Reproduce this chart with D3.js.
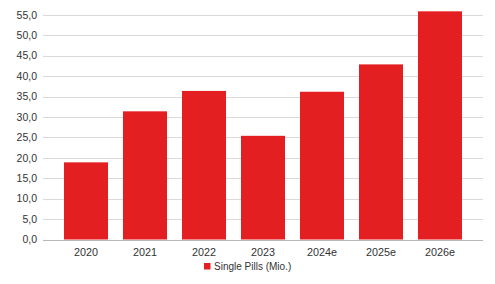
<!DOCTYPE html>
<html>
<head>
<meta charset="utf-8">
<script src="https://cdn.jsdelivr.net/npm/d3@7"></script>
<style>
  body { margin: 0; background: #fff; }
  text { font-family: "Liberation Sans", Arial, sans-serif; fill: #333; }
</style>
</head>
<body>
<script>
var w = 495;
var h = 284;

var years = ["2020", "2021", "2022", "2023", "2024e", "2025e", "2026e"];
var pills = [18.9, 31.4, 36.4, 25.4, 36.2, 42.9, 55.9];
var yTicks = [0, 5, 10, 15, 20, 25, 30, 35, 40, 45, 50, 55];
var seriesName = "Single Pills (Mio.)";

var plotLeft = 43, plotRight = 483, plotTop = 15, plotBottom = 239.5;

var x = d3.scaleBand()
    .domain(years)
    .range([plotLeft, plotRight])
    .paddingInner(0.254)
    .paddingOuter(0.356);

var y = d3.scaleLinear()
    .domain([0, 55])
    .range([plotBottom, plotTop]);

var svg = d3.select("body")
    .append("svg")
    .attr("width", w)
    .attr("height", h);

// grid lines
svg.selectAll("line.grid")
    .data(yTicks)
    .enter()
    .append("line")
    .attr("class", "grid")
    .attr("x1", plotLeft)
    .attr("x2", plotRight)
    .attr("y1", function(d){ return Math.round(y(d)) + 0.5; })
    .attr("y2", function(d){ return Math.round(y(d)) + 0.5; })
    .attr("stroke", function(d){ return d == 0 ? "#b8b8b8" : "#dadada"; })
    .attr("stroke-width", 1);

// y labels
svg.selectAll("text.ylab")
    .data(yTicks)
    .enter()
    .append("text")
    .attr("class", "ylab")
    .attr("x", 37)
    .attr("y", function(d){ return y(d); })
    .attr("dy", "0.35em")
    .attr("text-anchor", "end")
    .style("font-size", "10.5px")
    .text(function(d){ return d.toFixed(1).replace(".", ","); });

// bars
svg.selectAll("rect.bar")
    .data(pills)
    .enter()
    .append("rect")
    .attr("class", "bar")
    .attr("x", function(d, i){ return x(years[i]); })
    .attr("y", function(d){ return y(d); })
    .attr("width", x.bandwidth())
    .attr("height", function(d){ return y(0) - y(d); })
    .attr("fill", "#e41f22");

// x labels
svg.selectAll("text.xlab")
    .data(years)
    .enter()
    .append("text")
    .attr("class", "xlab")
    .attr("x", function(d){ return x(d) + x.bandwidth() / 2; })
    .attr("y", 256)
    .attr("text-anchor", "middle")
    .style("font-size", "10.8px")
    .text(function(d){ return d; });

// legend
svg.append("rect")
    .attr("x", 204)
    .attr("y", 263)
    .attr("width", 6.5)
    .attr("height", 6.5)
    .attr("fill", "#e41f22");

svg.append("text")
    .attr("x", 214)
    .attr("y", 270)
    .style("font-size", "10px")
    .text(seriesName);
</script>
</body>
</html>
